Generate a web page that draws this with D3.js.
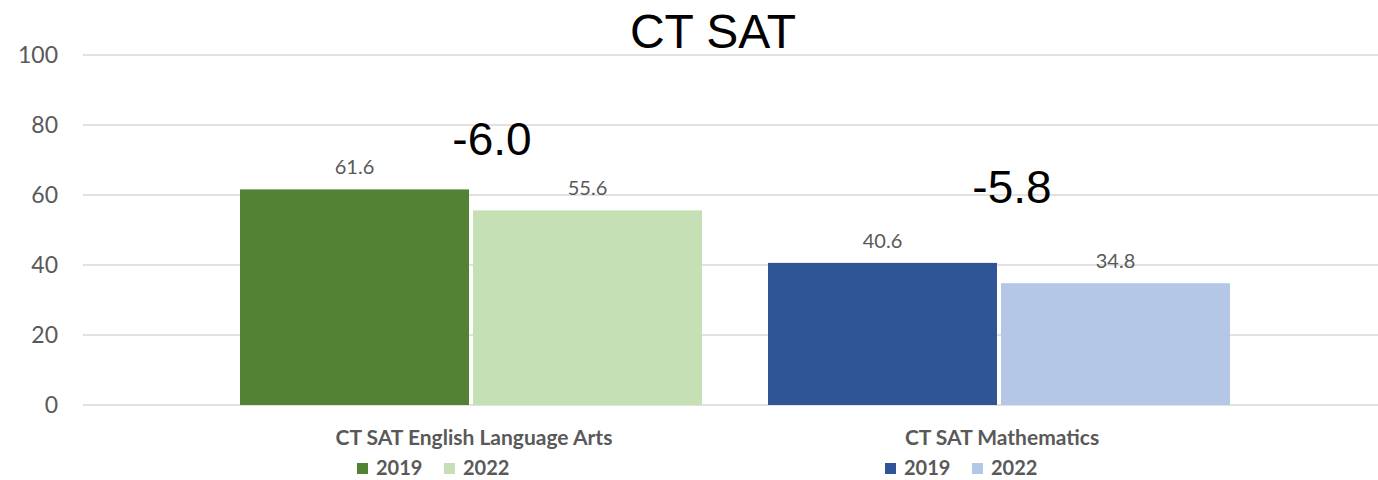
<!DOCTYPE html>
<html>
<head>
<meta charset="utf-8">
<script src="https://cdn.jsdelivr.net/npm/d3@7"></script>
<style>
  body { margin: 0; background: #fff; }
  svg text { font-family: Lato, "Noto Sans", sans-serif; }
</style>
</head>
<body>
<div id="chart"></div>
<script>
// data
var categories = ["CT SAT English Language Arts", "CT SAT Mathematics"];
var years = ["2019", "2022"];
var values2019 = [61.6, 40.6];
var values2022 = [55.6, 34.8];
var changeLabels = ["-6.0", "-5.8"];
var changeAnchor = [71.5, 57.6]; // y position in data units for the change text
var yTicks = [0, 20, 40, 60, 80, 100];

var colors = {
    "CT SAT English Language Arts": ["#548235", "#C5E0B4"],
    "CT SAT Mathematics": ["#2F5597", "#B4C7E7"]
};
// horizontal nudge of the change text from the group centre
var changeShift = [21, 13];

var W = 1378, H = 480;

var svg = d3.select("#chart")
    .append("svg")
    .attr("width", W)
    .attr("height", H);

// scales
var y = d3.scaleLinear()
    .domain([0, 100])
    .range([405, 55]);

var x0 = d3.scaleBand()
    .domain(categories)
    .range([207, 1263]);

var x1 = d3.scaleBand()
    .domain(years)
    .range([33, 495])
    .paddingInner(4 / 233);

// gridlines
svg.append("g")
    .selectAll("line")
    .data(yTicks)
    .enter()
    .append("line")
    .attr("x1", 83)
    .attr("x2", W)
    .attr("y1", function(d) { return y(d); })
    .attr("y2", function(d) { return y(d); })
    .attr("stroke", "#d9d9d9")
    .attr("stroke-width", 1.3);

// y axis labels
svg.append("g")
    .selectAll("text")
    .data(yTicks)
    .enter()
    .append("text")
    .attr("x", 58)
    .attr("y", function(d) { return y(d) + 8; })
    .attr("text-anchor", "end")
    .attr("fill", "#595959")
    .style("font-size", "23px")
    .text(function(d) { return d; });

// title
svg.append("text")
    .attr("x", 713)
    .attr("y", 48)
    .attr("text-anchor", "middle")
    .attr("fill", "#000")
    .style("font-family", "'Liberation Sans', Arial, sans-serif")
    .style("font-size", "48px")
    .text("CT SAT");

// bars
var rows = [];
categories.forEach(function(c, i) {
    rows.push({cat: c, year: "2019", value: values2019[i], color: colors[c][0]});
    rows.push({cat: c, year: "2022", value: values2022[i], color: colors[c][1]});
});

var groups = svg.append("g");

groups.selectAll("rect")
    .data(rows)
    .enter()
    .append("rect")
    .attr("x", function(d) { return x0(d.cat) + x1(d.year); })
    .attr("y", function(d) { return y(d.value); })
    .attr("width", x1.bandwidth())
    .attr("height", function(d) { return y(0) - y(d.value); })
    .attr("fill", function(d) { return d.color; });

// value labels
groups.selectAll("text.val")
    .data(rows)
    .enter()
    .append("text")
    .attr("class", "val")
    .attr("x", function(d) { return x0(d.cat) + x1(d.year) + x1.bandwidth() / 2; })
    .attr("y", function(d) { return y(d.value) - 15; })
    .attr("text-anchor", "middle")
    .attr("fill", "#595959")
    .style("font-size", "20px")
    .text(function(d) { return d3.format(".1f")(d.value); });

// change annotations
svg.append("g")
    .selectAll("text")
    .data(categories)
    .enter()
    .append("text")
    .attr("x", function(d, i) { return x0(d) + x0.bandwidth() / 2 + changeShift[i]; })
    .attr("y", function(d, i) { return y(changeAnchor[i]); })
    .attr("text-anchor", "middle")
    .attr("fill", "#000")
    .style("font-family", "'Liberation Sans', Arial, sans-serif")
    .style("font-size", "46px")
    .text(function(d, i) { return changeLabels[i]; });

// category labels
svg.append("g")
    .selectAll("text")
    .data(categories)
    .enter()
    .append("text")
    .attr("x", function(d) { return x0(d) + x0.bandwidth() / 2 + 3; })
    .attr("y", 445)
    .attr("text-anchor", "middle")
    .attr("fill", "#595959")
    .style("font-size", "21px")
    .style("font-weight", "bold")
    .text(function(d) { return d; });

// legends (one under each category)
categories.forEach(function(c) {
    var lg = svg.append("g")
        .attr("transform", "translate(" + (x0(c) + x0.bandwidth() / 2 - 114) + ",0)");
    years.forEach(function(yr, j) {
        lg.append("rect")
            .attr("x", j * 87)
            .attr("y", 463)
            .attr("width", 11)
            .attr("height", 11)
            .attr("fill", colors[c][j]);
        lg.append("text")
            .attr("x", j * 87 + 19)
            .attr("y", 475)
            .attr("fill", "#595959")
            .style("font-size", "20px")
            .style("font-weight", "bold")
            .text(yr);
    });
});
</script>
</body>
</html>
